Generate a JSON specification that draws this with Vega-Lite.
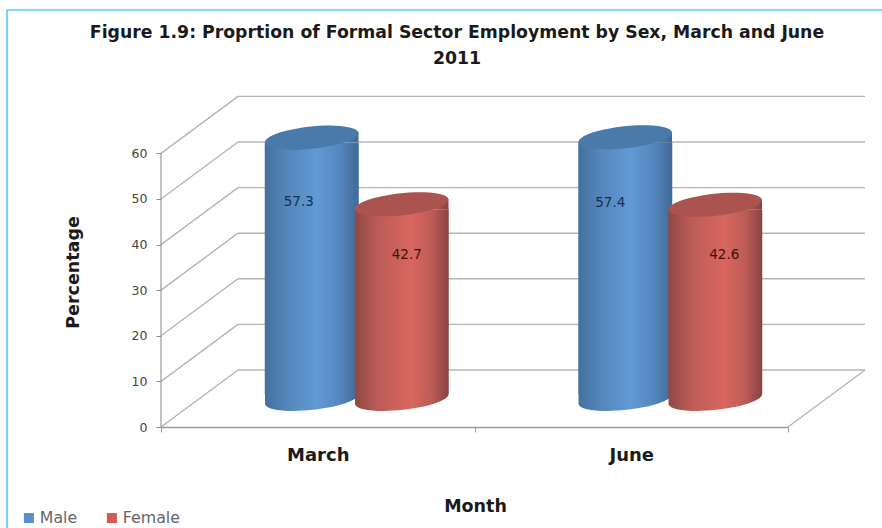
{
"$schema":"https://vega.github.io/schema/vega-lite/v6.json",
"width":704,"height":332,"autosize":"none",
"padding":{"left":161,"top":95,"right":17,"bottom":101},
"background":"white",
"config":{"view":{"stroke":null},"font":"DejaVu Sans"},
"title":{"text":["Figure 1.9: Proprtion of Formal Sector Employment by Sex, March and June","2011"],"anchor":"middle","frame":"group","dx":-56,"offset":-58,"fontSize":17.3,"fontWeight":"bold","color":"#1a1a1a","font":"DejaVu Sans","lineHeight":26},
"resolve":{"axis":{"x":"independent","y":"independent"}},
"datasets":{
"rows":[{"Month":"March","Sex":"Male","Percentage":57.3},{"Month":"March","Sex":"Female","Percentage":42.7},{"Month":"June","Sex":"Male","Percentage":57.4},{"Month":"June","Sex":"Female","Percentage":42.6}],
"ticks":[{"Tick":0},{"Tick":10},{"Tick":20},{"Tick":30},{"Tick":40},{"Tick":50},{"Tick":60}]
},
"layer":[
{"data":{"name":"ticks"},"mark":{"type":"rule","color":"#b5b5b5","strokeWidth":1.4,"yOffset":-57},
 "encoding":{"x":{"value":77},"x2":{"value":704},
  "y":{"field":"Tick","type":"quantitative","scale":{"domain":[0,72.8],"nice":false},
   "axis":{"values":[0,10,20,30,40,50,60],"title":"Percentage","titleFont":"DejaVu Sans","titleFontSize":17.5,"titleFontWeight":"bold","titleColor":"#1a1a1a","titleX":-79,"titleY":177,"domain":false,"grid":false,"ticks":true,"tickColor":"#8c8c8c","tickSize":5,"labelFontSize":12.5,"labelColor":"#444444","labelPadding":9,"labelFont":"DejaVu Sans"}}}},
{"data":{"name":"ticks"},"mark":{"type":"rule","color":"#b5b5b5","strokeWidth":1.4,"y2Offset":-57},
 "encoding":{"x":{"value":0},"x2":{"value":77},"y":{"field":"Tick","type":"quantitative","axis":null},"y2":{"field":"Tick"}}},
{"data":{"values":[{"Tick":0}]},"mark":{"type":"rule","color":"#b5b5b5","strokeWidth":1.4,"y2Offset":-57},
 "encoding":{"x":{"value":627},"x2":{"value":704},"y":{"field":"Tick","type":"quantitative","axis":null},"y2":{"field":"Tick"}}},
{"data":{"values":[{"Low":0,"High":60}]},"mark":{"type":"rule","color":"#9a9a9a","strokeWidth":1.2},
 "encoding":{"x":{"value":0},"y":{"field":"Low","type":"quantitative","axis":null},"y2":{"field":"High"}}},
{"data":{"name":"rows"},"mark":{"type":"point","size":0,"opacity":0,"filled":true},
 "encoding":{"x":{"field":"Month","type":"nominal","sort":["March","June"],"scale":{"range":[0,627],"paddingInner":0,"paddingOuter":0},
   "axis":{"title":"Month","titleFont":"DejaVu Sans","titleFontSize":17.5,"titleFontWeight":"bold","titleColor":"#1a1a1a","titleX":314,"titleY":70,"labelAngle":0,"labelFontSize":18,"labelFontWeight":"bold","labelColor":"#1a1a1a","labelFont":"DejaVu Sans","labelPadding":14,"tickBand":"extent","tickColor":"#9a9a9a","tickSize":5,"domainColor":"#9a9a9a","domainWidth":1.5,"grid":false}},
  "y":{"field":"Percentage","type":"quantitative","axis":null},
  "color":{"field":"Sex","type":"nominal","sort":["Male","Female"],"scale":{"domain":["Male","Female"],"range":["#5a8fc8","#d05c55"]},
   "legend":{"title":null,"orient":"none","legendX":-140,"legendY":415,"direction":"horizontal","columns":2,"symbolType":"square","symbolSize":100,"symbolOpacity":1,"symbolStrokeWidth":0,"labelFontSize":15.8,"labelColor":"#666666","labelFont":"DejaVu Sans","columnPadding":26,"labelOffset":3}}}},

{"data":{"name":"rows"},"transform":[{"filter":"datum.Sex==='Male'"}],
 "encoding":{"x":{"field":"Month","type":"nominal","sort":["March","June"],"axis":null},
  "xOffset":{"field":"Sex","type":"nominal","sort":["Male","Female"],"scale":{"domain":["Male","Female"],"range":[39,352.5],"paddingInner":0,"paddingOuter":0.7417}}},
 "layer":[
 {"mark":{"type":"point","filled":true,"opacity":1,"strokeWidth":0,"yOffset":-28,"size":8836,"shape":"M-.9945,.1045 A1,.234,-6,0,0,.9945,-.1045 L-.9945,-.1045 Z","fill":{"gradient":"linear","x1":0,"x2":1,"y1":0,"y2":0,"stops":[{"offset":0,"color":"#44709f"},{"offset":0.25,"color":"#5587bd"},{"offset":0.55,"color":"#619ad4"},{"offset":0.8,"color":"#5587bd"},{"offset":1,"color":"#3f6997"}]}},
  "encoding":{"y":{"datum":0,"type":"quantitative","axis":null}}},
 {"mark":{"type":"bar","width":94,"yOffset":-23,"y2Offset":-33,"fill":{"gradient":"linear","x1":0,"x2":1,"y1":0,"y2":0,"stops":[{"offset":0,"color":"#44709f"},{"offset":0.25,"color":"#5587bd"},{"offset":0.55,"color":"#619ad4"},{"offset":0.8,"color":"#5587bd"},{"offset":1,"color":"#3f6997"}]}},
  "encoding":{"y":{"field":"Percentage","type":"quantitative","stack":null,"axis":null},"y2":{"datum":0}}},
 {"mark":{"type":"point","filled":true,"opacity":1,"strokeWidth":0,"yOffset":-28,"size":8836,"shape":"M-.9945,.1045 L.9945,-.1045 L.9945,.1045 Z","fill":{"gradient":"linear","x1":0,"x2":1,"y1":0,"y2":0,"stops":[{"offset":0,"color":"#44709f"},{"offset":0.25,"color":"#5587bd"},{"offset":0.55,"color":"#619ad4"},{"offset":0.8,"color":"#5587bd"},{"offset":1,"color":"#3f6997"}]}},
  "encoding":{"y":{"field":"Percentage","type":"quantitative","stack":null,"axis":null}}},
 {"mark":{"type":"point","filled":true,"opacity":1,"strokeWidth":0,"yOffset":-28,"size":8836,"shape":"M-.9945,.1045 A1,.234,-6,1,1,.9945,-.1045 A1,.234,-6,1,1,-.9945,.1045 Z","fill":"#4a7aaa"},
  "encoding":{"y":{"field":"Percentage","type":"quantitative","stack":null,"axis":null}}},
 {"mark":{"type":"text","font":"DejaVu Sans","fontSize":13.5,"color":"#14304f","dx":{"expr":"datum.Month==='March'?-13:-15"},"dy":{"expr":"datum.Month==='March'?36:38"}},
  "encoding":{"y":{"field":"Percentage","type":"quantitative","stack":null,"axis":null},"text":{"field":"Percentage","type":"quantitative","format":".1f"}}}
 ]},
{"data":{"name":"rows"},"transform":[{"filter":"datum.Sex==='Female'"}],
 "encoding":{"x":{"field":"Month","type":"nominal","sort":["March","June"],"axis":null},
  "xOffset":{"field":"Sex","type":"nominal","sort":["Male","Female"],"scale":{"domain":["Male","Female"],"range":[39,352.5],"paddingInner":0,"paddingOuter":0.7417}}},
 "layer":[
 {"mark":{"type":"point","filled":true,"opacity":1,"strokeWidth":0,"yOffset":-28,"size":8836,"shape":"M-.9945,.1045 A1,.234,-6,0,0,.9945,-.1045 L-.9945,-.1045 Z","fill":{"gradient":"linear","x1":0,"x2":1,"y1":0,"y2":0,"stops":[{"offset":0,"color":"#8f4845"},{"offset":0.25,"color":"#bd5c57"},{"offset":0.6,"color":"#d9665f"},{"offset":0.82,"color":"#bd5c57"},{"offset":1,"color":"#884341"}]}},
  "encoding":{"y":{"datum":0,"type":"quantitative","axis":null}}},
 {"mark":{"type":"bar","width":94,"yOffset":-23,"y2Offset":-33,"fill":{"gradient":"linear","x1":0,"x2":1,"y1":0,"y2":0,"stops":[{"offset":0,"color":"#8f4845"},{"offset":0.25,"color":"#bd5c57"},{"offset":0.6,"color":"#d9665f"},{"offset":0.82,"color":"#bd5c57"},{"offset":1,"color":"#884341"}]}},
  "encoding":{"y":{"field":"Percentage","type":"quantitative","stack":null,"axis":null},"y2":{"datum":0}}},
 {"mark":{"type":"point","filled":true,"opacity":1,"strokeWidth":0,"yOffset":-28,"size":8836,"shape":"M-.9945,.1045 L.9945,-.1045 L.9945,.1045 Z","fill":{"gradient":"linear","x1":0,"x2":1,"y1":0,"y2":0,"stops":[{"offset":0,"color":"#8f4845"},{"offset":0.25,"color":"#bd5c57"},{"offset":0.6,"color":"#d9665f"},{"offset":0.82,"color":"#bd5c57"},{"offset":1,"color":"#884341"}]}},
  "encoding":{"y":{"field":"Percentage","type":"quantitative","stack":null,"axis":null}}},
 {"mark":{"type":"point","filled":true,"opacity":1,"strokeWidth":0,"yOffset":-28,"size":8836,"shape":"M-.9945,.1045 A1,.234,-6,1,1,.9945,-.1045 A1,.234,-6,1,1,-.9945,.1045 Z","fill":"#ab534f"},
  "encoding":{"y":{"field":"Percentage","type":"quantitative","stack":null,"axis":null}}},
 {"mark":{"type":"text","font":"DejaVu Sans","fontSize":13.5,"color":"#3f1110","dx":{"expr":"datum.Month==='March'?5:9"},"dy":{"expr":"datum.Month==='March'?23:22"}},
  "encoding":{"y":{"field":"Percentage","type":"quantitative","stack":null,"axis":null},"text":{"field":"Percentage","type":"quantitative","format":".1f"}}}
 ]},
{"data":{"values":[{"Frame":"left"}]},"mark":{"type":"rule","color":"#1ab6ee","strokeWidth":1.2},
 "encoding":{"x":{"value":-154},"y":{"value":-85},"y2":{"value":433}}},
{"data":{"values":[{"Frame":"top"}]},"mark":{"type":"rule","color":"#1ab6ee","strokeWidth":1.2},
 "encoding":{"x":{"value":-154},"x2":{"value":721},"y":{"value":-85}}}
]
}
